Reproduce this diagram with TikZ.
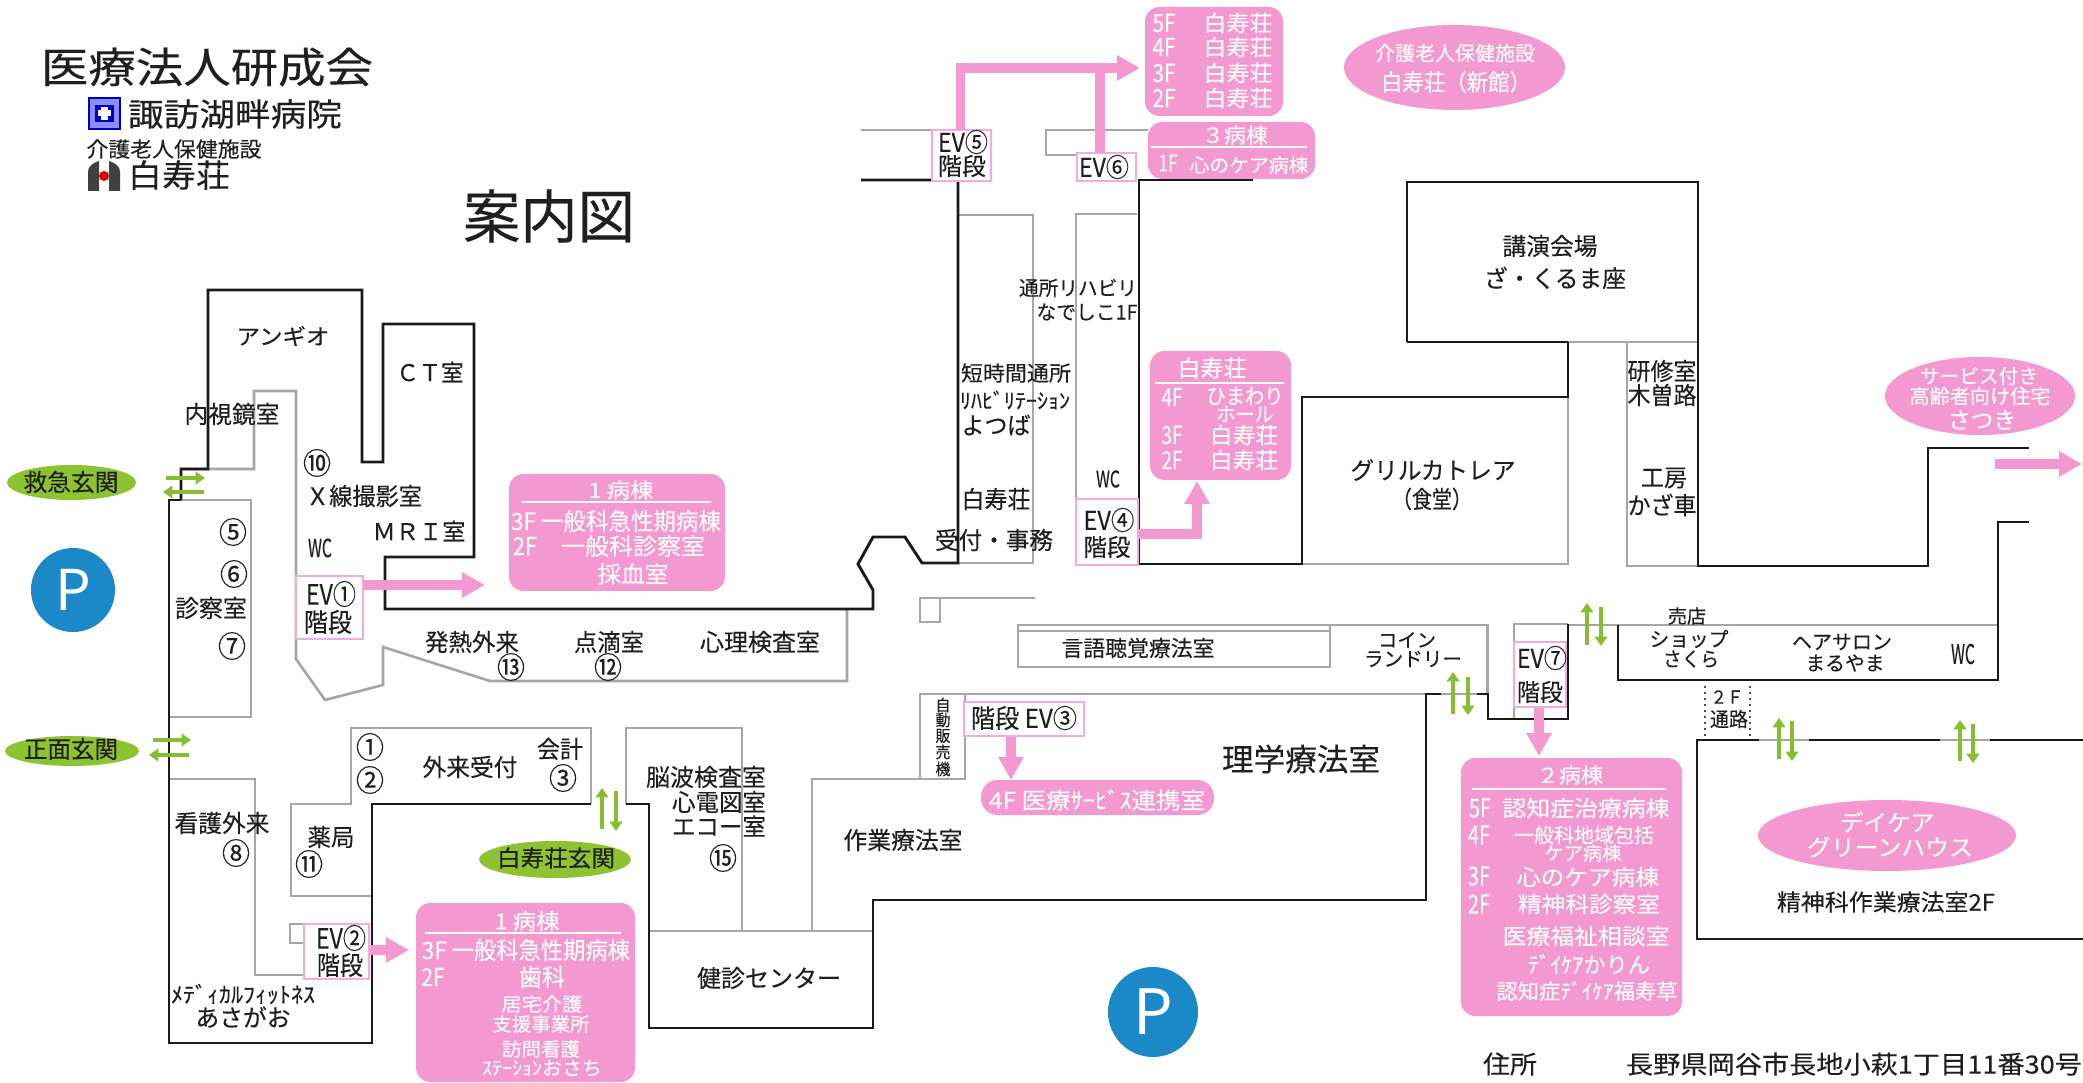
\documentclass[tikz,border=0pt]{standalone}
\usepackage{fontspec}
\usepackage{graphicx}
\setmainfont[FakeBold=0.2]{Noto Sans CJK JP}
\newfontfamily\plainfont{Noto Sans CJK JP}
\usetikzlibrary{arrows.meta,shapes.geometric}
\definecolor{pk}{HTML}{F398D0}
\definecolor{pkl}{HTML}{F7A8DC}
\definecolor{gn}{HTML}{85BE2E}
\definecolor{gne}{HTML}{8DC230}
\definecolor{pblue}{HTML}{1B88C8}
\definecolor{wall}{HTML}{1A1A1A}
\definecolor{gw}{HTML}{A6A6A6}
\newcount\tc
\newcommand\Tt[6]{\global\advance\tc by 1
  \pgfmathsetmacro\myfs{#4*0.48}\pgfmathsetmacro\myw{#5*0.48}
  \node[inner sep=0pt,text=#1] (t\the\tc) at (#2,#3) {\fontsize{\myfs}{\myfs}\selectfont\resizebox*{\myw pt}{\totalheight}{#6}};}
\newcommand\T[5]{\Tt{black!88}{#1}{#2}{#3}{#4}{#5}}
\newcommand\W[5]{\Tt{white}{#1}{#2}{#3}{#4}{#5}}
\newcommand\PB[6]{\node[#1,minimum width={(#5-#3)*0.48},minimum height={(#6-#4)*0.48}] (#2) at ({(#3+#5)/2},{(#4+#6)/2}) {};}
\tikzset{
  blk/.style={draw=wall,line width=1.4pt,line join=miter},
  gry/.style={draw=gw,line width=1.25pt,line join=miter},
  pinkbox/.style={rectangle,fill=pk,rounded corners=7pt,inner sep=0pt},
  pillbox/.style={rectangle,fill=pk,rounded corners=8pt,inner sep=0pt},
  evbox/.style={rectangle,draw=pkl,line width=1.4pt,fill=white,inner sep=0pt},
  pinkell/.style={ellipse,fill=pk,inner sep=0pt},
  greenell/.style={ellipse,fill=gne,inner sep=0pt},
  parkc/.style={circle,fill=pblue,inner sep=0pt},
  parr/.style={draw=pk,line width=4.6pt,line join=miter,-{Triangle[width=11.5pt,length=11pt]}},
  garr/.style={draw=gn,line width=2.3pt,-{Triangle[width=6pt,length=4.5pt]}},
}
\begin{document}
\begin{tikzpicture}[x=0.48pt,y=-0.48pt]
\useasboundingbox (0,0) rectangle (2083,1083);
\fill[white] (0,0) rectangle (2083,1083);
% grey walls
\draw[gry] (181,469) -- (254,469) -- (254,391) -- (296,391) -- (296,659) -- (325,700) -- (383,685) -- (383,647) -- (490,681) -- (847,681) -- (847,609);
\draw[gry] (181,500) -- (251,500) -- (251,717) -- (168,717);
\draw[gry] (168,779) -- (255,779) -- (255,975) -- (304,975);
\draw[gry] (304,924) -- (290,924) -- (290,943) -- (304,943);
\draw[gry] (591,804) -- (591,728) -- (351,728) -- (351,804) -- (291,804) -- (291,896) -- (372,896);
\draw[gry] (626,804) -- (626,728) -- (742,728) -- (742,931);
\draw[gry] (649,931) -- (873,931);
\draw[gry] (812,931) -- (812,779) -- (965,779) -- (965,694);
\draw[gry] (920,779) -- (920,694) -- (1488,694) -- (1488,625) -- (1018,625) -- (1018,667) -- (1330,667) -- (1330,625);
\draw[gry] (1018,631) -- (1330,631);
\draw[gry] (1035,598) -- (920,598) -- (920,622) -- (940,622) -- (940,598);
\draw[gry] (861,130) -- (932,130);
\draw[gry] (1148,130) -- (1046,130) -- (1046,155) -- (1077,155);
\draw[gry] (958,215) -- (1033,215) -- (1033,563) -- (958,563);
\draw[gry] (1137,214) -- (1076,214) -- (1076,499);
\draw[gry] (1139,564) -- (1076,564);
\draw[gry] (1302,564) -- (1568,564) -- (1568,397);
\draw[gry] (1568,342) -- (1697,342);
\draw[gry] (1627,342) -- (1627,566) -- (1697,566);
\draw[gry] (1487,694) -- (1487,624);
\draw[gry] (1514,719) -- (1514,624) -- (1568,624);
\draw[gry] (1568,625) -- (1997,625);
\draw[gry] (1759,740) -- (1809,740);
\draw[gry] (1940,740) -- (1990,740);
% black walls
\draw[blk] (181,500) -- (169,500) -- (169,1043) -- (372,1043) -- (372,804) -- (591,804);
\draw[blk] (181,500) -- (181,469) -- (208,469) -- (208,290) -- (362,290) -- (362,462) -- (383,462) -- (383,324) -- (474,324) -- (474,557) -- (385,557) -- (385,609) -- (873,609) -- (873,590) -- (858,564) -- (873,537) -- (905,537) -- (922,563) -- (958,563) -- (958,180) -- (861,180);
\draw[blk] (626,804) -- (649,804) -- (649,1028) -- (873,1028) -- (873,900) -- (1426,900) -- (1426,694) -- (1441,694);
\draw[blk] (1477,694) -- (1488,694) -- (1488,719) -- (1568,719) -- (1568,624);
\draw[blk] (1253,180) -- (1139,180) -- (1139,564) -- (1302,564) -- (1302,397) -- (1568,397) -- (1568,342);
\draw[blk] (1407,342) -- (1407,182) -- (1698,182) -- (1698,566) -- (1928,566) -- (1928,448) -- (2029,448);
\draw[blk] (1407,342) -- (1568,342);
\draw[blk] (1618,625) -- (1618,680) -- (1998,680) -- (1998,522) -- (2029,522);
\draw[blk] (1759,740) -- (1697,740) -- (1697,939) -- (2083,939);
\draw[blk] (1809,740) -- (1940,740);
\draw[blk] (1990,740) -- (2083,740);
\draw[black!70,line width=0.9pt,dotted] (1705,686) -- (1705,736);
\draw[black!70,line width=0.9pt,dotted] (1750,686) -- (1750,736);
% pink boxes
\PB{pinkbox}{pkA}{509}{474}{725}{591}
\PB{pinkbox}{pkB}{416}{903}{635}{1082}
\PB{pinkbox}{pkC}{1145}{7}{1283}{116}
\PB{pinkbox}{pkD}{1148}{122}{1315}{179}
\PB{pinkbox}{pkE}{1150}{351}{1291}{480}
\PB{pinkbox}{pkF}{1461}{758}{1682}{1016}
\PB{pillbox}{pkG}{981}{780}{1214}{815}
% ellipses
\PB{pinkell}{elA}{1344}{25}{1565}{110}
\PB{pinkell}{elB}{1885}{357}{2075}{435}
\PB{pinkell}{elC}{1758}{800}{2016}{871}
\PB{greenell}{gA}{7}{465}{136}{500}
\PB{greenell}{gB}{5}{736}{139}{766}
\PB{greenell}{gC}{479}{841}{631}{878}
\PB{parkc}{pA}{31}{548}{115}{632}
\PB{parkc}{pB}{1108}{967}{1198}{1057}
% pink arrows
\coordinate (endA) at (485,585);
\coordinate (endB) at (409,950);
\coordinate (endC) at (1011,780);
\coordinate (endD) at (1197,481);
\coordinate (endE) at (1140,68);
\coordinate (endF) at (1539,756);
\coordinate (fromG) at (1995,464);
\coordinate (endG) at (2082,464);
\PB{evbox}{evA}{296}{576}{363}{639}
\PB{evbox}{evB}{304}{924}{369}{979}
\PB{evbox}{evC}{964}{702}{1084}{736}
\PB{evbox}{evD}{1076}{499}{1138}{565}
\PB{evbox}{evE}{932}{130}{991}{181}
\PB{evbox}{evF}{1077}{153}{1136}{181}
\PB{evbox}{evG}{1514}{642}{1566}{707}
\draw[parr] (evA.east |- endA) -- (endA);
\draw[parr] (evB.east |- endB) -- (endB);
\draw[parr] (endC |- evC.south) -- (endC);
\draw[parr,line join=miter] (evD.east |- 0,534) -- (1197,534) -- (endD);
\draw[parr] (960.5,130) -- (960.5,68) -- (endE);
\draw[parr,-] (1100,153) -- (1100,68);
\draw[parr] (endF |- evG.south) -- (endF);
\draw[parr] (fromG) -- (endG);
% green arrows
\coordinate (g1a) at (166,478); \coordinate (g1b) at (205,478);
\coordinate (g2a) at (204,492); \coordinate (g2b) at (163,492);
\coordinate (g3a) at (153,740); \coordinate (g3b) at (191,740);
\coordinate (g4a) at (189,755); \coordinate (g4b) at (149,755);
\draw[garr] (g1a) -- (g1b); \draw[garr] (g2a) -- (g2b);
\draw[garr] (g3a) -- (g3b); \draw[garr] (g4a) -- (g4b);
\draw[garr] (602,829) -- (602,788); \draw[garr] (616,791) -- (616,831);
\draw[garr] (1453,714) -- (1453,672); \draw[garr] (1468,677) -- (1468,715);
\draw[garr] (1587,645) -- (1587,603); \draw[garr] (1601,607) -- (1601,646);
\draw[garr] (1779,759) -- (1779,718); \draw[garr] (1792,721) -- (1792,761);
\draw[garr] (1960,761) -- (1960,720); \draw[garr] (1973,724) -- (1973,763);
% logos
\fill[blue!75!black] (88,97) rectangle (121,130);
\fill[blue!45!white] (90,99) rectangle (119,128);
\fill[blue!75!black] (95,105) rectangle (114,122);
\fill[white] (101,107) rectangle (108,120);
\fill[white] (98,110.5) rectangle (111,116.5);
\fill[black!75] (88,191) -- (88,172) .. controls (88,167) and (92,163) .. (99,161) -- (99,191) -- cycle;
\fill[black!75] (120,191) -- (120,172) .. controls (120,167) and (116,163) .. (109,161) -- (109,191) -- cycle;
\fill[red!85!black] (104,176) circle[radius=5];
% white rules in pink boxes
\draw[white,line width=1pt] (425,933) -- (621,933);
\draw[white,line width=1pt] (522,502) -- (711,502);
\draw[white,line width=1pt] (1151,147) -- (1307,147);
\draw[white,line width=1pt] (1155,383) -- (1284,383);
\draw[white,line width=1pt] (1472,789) -- (1666,789);
% titles
\T{207}{67}{42}{332}{医療法人研成会}
\T{235}{114}{32}{214}{諏訪湖畔病院}
\T{174}{149}{21}{175}{介護老人保健施設}
\T{179}{175}{32}{102}{白寿荘}
\T{549}{216}{58}{172}{案内図}
% left block
\T{283}{336}{22}{93}{アンギオ}
\T{430}{372}{23}{67}{ＣＴ室}
\T{232}{414}{24}{95}{内視鏡室}
\T{317}{463}{30}{28}{⑩}
\T{364}{496}{24}{116}{Ｘ線撮影室}
\T{419}{531}{23}{93}{ＭＲＩ室}
\T{233}{532}{30}{28}{⑤}
\T{320}{548}{25}{24}{WC}
\T{234}{574}{30}{28}{⑥}
\T{211}{608}{24}{72}{診察室}
\T{232}{646}{30}{28}{⑦}
\T{331}{594}{28}{50}{EV①}
\T{328}{622}{26}{48}{階段}
\T{472}{642}{24}{94}{発熱外来}
\T{511}{667}{30}{28}{⑬}
\T{609}{642}{24}{70}{点滴室}
\T{608}{667}{30}{28}{⑫}
\T{760}{642}{24}{120}{心理検査室}
\T{370}{747}{30}{28}{①}
\T{370}{780}{30}{28}{②}
\T{470}{767}{24}{95}{外来受付}
\T{560}{749}{24}{46}{会計}
\T{563}{778}{30}{28}{③}
\T{706}{777}{24}{120}{脳波検査室}
\T{719}{802}{24}{94}{心電図室}
\T{719}{826}{24}{94}{エコー室}
\T{723}{858}{30}{28}{⑮}
\T{903}{840}{24}{119}{作業療法室}
\T{222}{823}{24}{95}{看護外来}
\T{236}{853}{30}{28}{⑧}
\T{331}{837}{24}{47}{薬局}
\T{309}{864}{30}{28}{⑪}
\T{341}{938}{28}{50}{EV②}
\T{340}{965}{26}{46}{階段}
\T{556}{858}{23}{118}{白寿荘玄関}
\T{71}{482}{24}{95}{救急玄関}
\T{71}{749}{24}{94}{正面玄関}
\T{243}{994}{22}{144}{ﾒﾃﾞｨｶﾙﾌｨｯﾄﾈｽ}
\T{243}{1017}{24}{95}{あさがお}
\T{769}{978}{24}{144}{健診センター}
% P
\node[inner sep=0pt,text=white] (pA1) at (pA) {\plainfont\fontsize{27}{27}\selectfont P};
\node[inner sep=0pt,text=white] (pB1) at (pB) {\plainfont\fontsize{30}{30}\selectfont P};
% pink lower
\W{527}{921}{22}{65}{1 病棟}
\W{526}{950}{24}{208}{3F 一般科急性期病棟}
\W{433}{977}{25}{23}{2F}
\W{542}{977}{24}{46}{歯科}
\W{542}{1004}{19}{81}{居宅介護}
\W{541}{1024}{19}{97}{支援事業所}
\W{541}{1049}{19}{78}{訪問看護}
\W{542}{1068}{19}{120}{ｽﾃｰｼｮﾝおさち}
% pink upper
\W{621}{490}{21}{65}{1 病棟}
\W{616}{521}{24}{210}{3F 一般科急性期病棟}
\W{525}{546}{25}{24}{2F}
\W{633}{546}{23}{144}{一般科診察室}
\W{633}{574}{23}{71}{採血室}
% top pink
\W{1164}{23}{25}{23}{5F}\W{1238}{23}{22}{69}{白寿荘}
\W{1164}{47}{25}{23}{4F}\W{1238}{47}{22}{69}{白寿荘}
\W{1164}{73}{25}{23}{3F}\W{1238}{73}{22}{69}{白寿荘}
\W{1164}{98}{25}{23}{2F}\W{1238}{98}{22}{69}{白寿荘}
\W{1235}{135}{21}{66}{３病棟}
\W{1168}{163}{23}{19}{1F}
\W{1249}{165}{19}{119}{心のケア病棟}
\T{963}{142}{26}{50}{EV⑤}
\T{962}{166}{24}{48}{階段}
\T{1104}{167}{26}{50}{EV⑥}
\T{1109}{520}{26}{51}{EV④}
\T{1107}{547}{24}{47}{階段}
\T{1078}{288}{20}{118}{通所リハビリ}
\T{1087}{312}{20}{101}{なでしこ1F}
\T{1016}{373}{21}{110}{短時間通所}
\T{1015}{400}{21}{110}{ﾘﾊﾋﾞﾘﾃｰｼｮﾝ}
\T{996}{425}{24}{69}{よつば}
\T{996}{499}{24}{69}{白寿荘}
\T{994}{540}{24}{118}{受付・事務}
\T{1108}{479}{23}{24}{WC}
\W{1212}{368}{23}{69}{白寿荘}
\W{1172}{397}{25}{21}{4F}
\W{1245}{396}{22}{77}{ひまわり}
\W{1245}{414}{20}{57}{ホール}
\W{1172}{435}{25}{21}{3F}
\W{1244}{435}{22}{68}{白寿荘}
\W{1172}{460}{25}{21}{2F}
\W{1244}{460}{22}{68}{白寿荘}
\W{1455}{53}{20}{160}{介護老人保健施設}
\W{1456}{82}{23}{150}{白寿荘（新館）}
\T{1550}{246}{24}{95}{講演会場}
\T{1555}{278}{24}{142}{ざ・くるま座}
\T{1433}{470}{24}{165}{グリルカトレア}
\T{1432}{499}{24}{80}{（食堂）}
\T{1662}{371}{24}{69}{研修室}
\T{1662}{395}{24}{69}{木曽路}
\T{1664}{478}{24}{46}{工房}
\T{1662}{505}{24}{69}{かざ車}
\W{1979}{376}{20}{118}{サービス付き}
\W{1980}{396}{20}{141}{高齢者向け住宅}
\W{1982}{420}{23}{68}{さつき}
\T{1687}{616}{19}{38}{売店}
\T{1689}{639}{20}{79}{ショップ}
\T{1691}{659}{20}{56}{さくら}
\T{1842}{642}{20}{100}{ヘアサロン}
\T{1845}{663}{20}{79}{まるやま}
\T{1963}{654}{27}{24}{WC}
\T{1727}{697}{18}{33}{２Ｆ}
\T{1729}{719}{20}{38}{通路}
\T{1542}{658}{26}{50}{EV⑦}
\T{1540}{692}{24}{46}{階段}
% ward 2
\W{1570}{775}{21}{66}{２病棟}
\W{1480}{808}{26}{22}{5F}
\W{1586}{808}{22}{167}{認知症治療病棟}
\W{1479}{835}{26}{22}{4F}
\W{1584}{835}{20}{140}{一般科地域包括}
\W{1583}{853}{19}{77}{ケア病棟}
\W{1479}{876}{26}{22}{3F}
\W{1588}{877}{22}{142}{心のケア病棟}
\W{1479}{904}{26}{22}{2F}
\W{1589}{904}{22}{142}{精神科診察室}
\W{1586}{936}{22}{167}{医療福祉相談室}
\W{1589}{964}{22}{122}{ﾃﾞｲｹｱかりん}
\W{1587}{991}{21}{181}{認知症ﾃﾞｲｹｱ福寿草}
\W{1887}{822}{23}{94}{デイケア}
\W{1890}{847}{23}{166}{グリーンハウス}
\T{1886}{902}{23}{218}{精神科作業療法室2F}
\T{1510}{1064}{25}{54}{住所}
\T{1854}{1064}{25}{456}{長野県岡谷市長地小萩1丁目11番30号}
% center
\T{1138}{648}{22}{153}{言語聴覚療法室}
\T{1407}{640}{19}{58}{コイン}
\T{1413}{659}{20}{98}{ランドリー}
\T{943}{705}{16}{15}{自}
\T{943}{720}{16}{15}{動}
\T{943}{736}{16}{15}{販}
\T{943}{752}{16}{15}{売}
\T{943}{769}{16}{15}{機}
\T{1024}{718}{26}{106}{階段 EV③}
\W{1097}{800}{23}{216}{4F 医療ｻｰﾋﾞｽ連携室}
\T{1301}{759}{31}{158}{理学療法室}
\end{tikzpicture}
\end{document}
